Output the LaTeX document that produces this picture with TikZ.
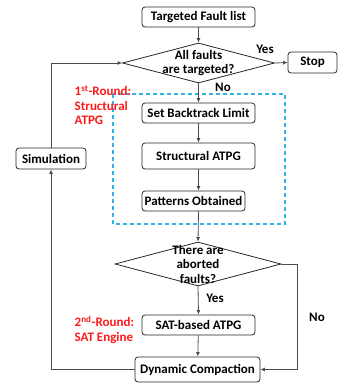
\documentclass[tikz,border=0pt]{standalone}
\usepackage{fontspec}
\setmainfont{Carlito}
\usetikzlibrary{arrows.meta,shapes.geometric}

\definecolor{roundcyan}{HTML}{2FB4E9}
\definecolor{roundred}{HTML}{FF1A1A}

\begin{document}
\begin{tikzpicture}[x=1pt,y=-1pt,line width=0.8pt,>={Latex[length=4.5pt,width=4pt]},
  font=\bfseries\fontsize{13}{14.5}\selectfont,
  stepbox/.style={draw=black!85,rounded corners=3pt,inner sep=0pt,minimum height=20pt},
  askbox/.style={draw=black!85,diamond,inner sep=0pt},
  flow/.style={->,draw=black!70},
  roundlbl/.style={text=roundred,align=left,anchor=west}]
  \useasboundingbox (0,0) rectangle (338,384);
  % main column
  \node[stepbox,minimum width=113pt] (tfl) at (198.5,17) {Targeted Fault list};
  \node[askbox,minimum width=152pt,minimum height=40pt,
    label={[align=center]center:All faults\\are targeted?}] (allq) at (198.5,63) {};
  \node[stepbox,minimum width=49pt,minimum height=21pt] (stop) at (312.5,62.5) {Stop};
  \node[stepbox,minimum width=113pt] (sbl) at (198.5,113) {Set Backtrack Limit};
  \node[stepbox,minimum width=113pt,minimum height=26pt] (satpg) at (198.5,156) {Structural ATPG};
  \node[stepbox,minimum width=103pt] (pob) at (193.5,201) {Patterns Obtained};
  \node[askbox,minimum width=166pt,minimum height=44pt,
    label={[align=center]center:There are\\aborted\\faults?}] (abq) at (198,264) {};
  \node[stepbox,minimum width=113pt] (sat) at (198.5,325) {SAT-based ATPG};
  \node[stepbox,minimum width=125pt,minimum height=25pt] (dyn) at (197.5,369.5) {Dynamic Compaction};
  \node[stepbox,minimum width=70pt,minimum height=21pt] (sim) at (51,158.5) {Simulation};
  % first round frame
  \draw[roundcyan,line width=1.1pt,dash pattern=on 4pt off 3pt] (113,94) rectangle (285,224);
  \node[roundlbl] (r1) at (71,105) {1\textsuperscript{st}-Round:\\Structural\\ATPG};
  \node[roundlbl] (r2) at (71,329.5) {2\textsuperscript{nd}-Round:\\SAT Engine};
  % connectors
  \draw[flow] (tfl) -- (allq);
  \draw[flow] (allq.east) -- (stop.west);
  \node (yes1) at (265,49) {Yes};
  \draw[flow] (allq.south) -- (sbl.north);
  \node (no1) at (223,87) {No};
  \draw[flow] (sbl) -- (satpg);
  \draw[flow] (satpg.south) -- (satpg.south |- pob.north);
  \draw[flow] (satpg.south |- pob.south) -- (abq.north);
  \draw[flow] (abq.south) -- (sat.north);
  \node (yes2) at (215,298) {Yes};
  \draw[flow] (sat) -- (dyn);
  \draw[flow] (abq.east) -- ++(16,0) |- (dyn.east);
  \node (no2) at (317,317) {No};
  \draw[flow] (dyn.west) -| (sim.south);
  \draw[flow] (sim.north) |- (allq.west);
\end{tikzpicture}
\end{document}
